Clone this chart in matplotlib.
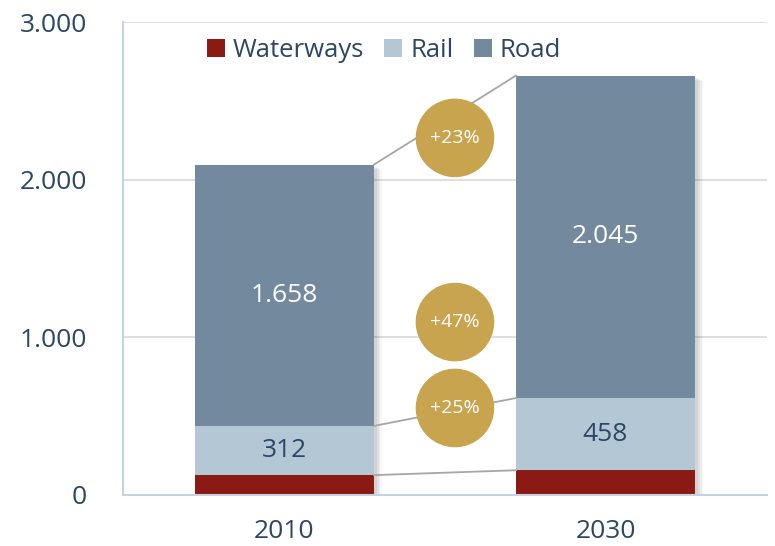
import matplotlib.pyplot as plt
from matplotlib.patches import Rectangle

plt.rcParams['font.family'] = ['Open Sans', 'DejaVu Sans']

# data
years = ['2010', '2030']
waterways = [126, 157]
rail = [312, 458]
road = [1658, 2045]
growth_labels = ['+23%', '+47%', '+25%']
growth_y = [2265, 1097, 552]

c_water = '#8B1A14'
c_rail = '#B4C7D5'
c_road = '#738A9E'
c_gold = '#C9A44E'
c_text = '#2B4766'

fig = plt.figure(figsize=(7.75, 5.46), dpi=100)
ax = fig.add_axes([123 / 775, 1 - 495 / 546, (767 - 123) / 775, (495 - 22) / 546])

x = [0, 1]
width = 0.558
bottom_rail = waterways
bottom_road = [w + r for w, r in zip(waterways, rail)]
totals = [b + r for b, r in zip(bottom_road, road)]

# soft shadow behind the bars
for xi, t in zip(x, totals):
    for k, a in enumerate([0.06, 0.05, 0.04, 0.03]):
        off = 0.008 + k * 0.006
        ax.add_patch(Rectangle((xi - width / 2 + off, -18 - k * 6), width, t,
                               facecolor='black', alpha=a, edgecolor='none', zorder=1))

ax.bar(x, waterways, width, color=c_water, label='Waterways', zorder=2)
ax.bar(x, rail, width, bottom=bottom_rail, color=c_rail, label='Rail', zorder=2)
ax.bar(x, road, width, bottom=bottom_road, color=c_road, label='Road', zorder=2)

# connector lines between the bars
for lv in [waterways, bottom_road, totals]:
    ax.plot([x[0] + width / 2, x[1] - width / 2], [lv[0], lv[1]],
            color='#A6A6A6', lw=1.3, zorder=3)

# growth bubbles
ax.scatter([0.531] * 3, growth_y, s=3200, color=c_gold, zorder=4, edgecolors='none')
for lab, gy in zip(growth_labels, growth_y):
    ax.text(0.531, gy, lab, ha='center', va='center', color='white', fontsize=14, zorder=5)


def fmt(v):
    return f'{v:,}'.replace(',', '.')


for xi, b, r in zip(x, bottom_rail, rail):
    ax.text(xi, b + r / 2, fmt(r), ha='center', va='center', color=c_text, fontsize=19, zorder=5)
for xi, b, r in zip(x, bottom_road, road):
    ax.text(xi, b + r / 2, fmt(r), ha='center', va='center', color='white', fontsize=19, zorder=5)

ax.set_xlim(-0.503, 1.503)
ax.set_ylim(0, 3000)
ax.set_yticks([0, 1000, 2000, 3000])
ax.set_yticklabels([fmt(v) for v in [0, 1000, 2000, 3000]])
ax.set_xticks(x)
ax.set_xticklabels(years)
ax.tick_params(axis='both', length=0, labelsize=19, colors=c_text)
ax.tick_params(axis='y', pad=26)
ax.tick_params(axis='x', pad=17)
ax.grid(axis='y', color='#D9D9D9', lw=1.2, zorder=0)
ax.set_axisbelow(True)
for s in ['top', 'right']:
    ax.spines[s].set_visible(False)
for s in ['left', 'bottom']:
    ax.spines[s].set_color('#C5D3E0')
    ax.spines[s].set_linewidth(1.5)

ax.legend(loc='upper center', bbox_to_anchor=(0.405, 1.015), ncol=3, frameon=False,
          fontsize=18.5, labelcolor=c_text, handlelength=0.7, handleheight=0.7,
          handletextpad=0.3, columnspacing=0.8)

fig.savefig('out.png', dpi=100)
